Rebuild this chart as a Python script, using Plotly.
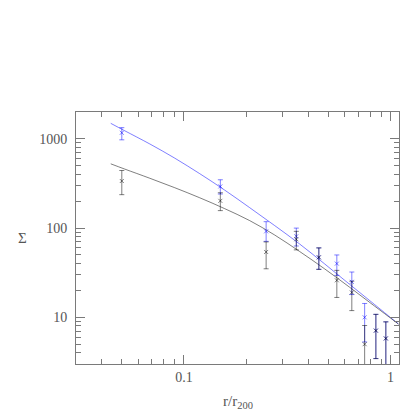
import plotly.graph_objects as go

# ---- data ----
r_bins = [0.05, 0.15, 0.25, 0.35, 0.45, 0.55, 0.65, 0.75, 0.85, 0.95]

sigma_blue = [1170, 293, 92, 81, 47, 40, 25, 10.0, 7.1, 5.8]
err_blue_up = [165, 55, 26, 19, 13, 10, 7.2, 4.3, 3.7, 3.1]
err_blue_dn = [195, 52, 21, 18, 12.5, 10.5, 7.0, 4.7, 3.65, 5.0]

sigma_black = [337, 202, 54, 75, 47, 26, 19, 5.0, 7.1, 5.8]
err_black_up = [105, 47, 16, 17, 13, 7.6, 6.4, 3.1, 3.7, 3.1]
err_black_dn = [100, 45, 19, 18, 12.5, 9.3, 7.1, 4.0, 3.65, 5.0]

model_r = [0.0442, 0.0516, 0.0683, 0.0902, 0.1191, 0.1573, 0.2079,
           0.2747, 0.3628, 0.4794, 0.6333, 0.8366, 1.093]
model_blue = [1493, 1234, 877, 608, 408, 267, 169.7, 106.9, 66.5, 39.8, 23.5, 13.96, 8.42]
model_black = [525, 459, 362, 283.6, 219, 165.4, 121.5, 83.8, 54.8, 35.0, 21.8, 13.4, 8.42]

x_tickvals = [0.1, 1]
x_ticktext = ["0.1", "1"]
x_minor = [0.03, 0.04, 0.05, 0.06, 0.07, 0.08, 0.09, 0.2, 0.3, 0.4, 0.5, 0.6, 0.7, 0.8, 0.9]
y_tickvals = [10, 100, 1000]
y_ticktext = ["10", "100", "1000"]
y_minor = [3, 4, 5, 6, 7, 8, 9, 20, 30, 40, 50, 60, 70, 80, 90,
           200, 300, 400, 500, 600, 700, 800, 900]

BLUE = "rgba(0,0,255,0.5)"
BLACK = "rgba(0,0,0,0.5)"
AXC = "#7a7a7a"
TXT = "#555555"
FONT = "Liberation Serif"
XR = [-1.5229, 0.0414]
YR = [0.4771, 3.3010]

fig = go.Figure()

fig.add_trace(go.Scatter(x=model_r, y=model_blue, mode="lines",
                         line=dict(color=BLUE, width=1, shape="spline"),
                         hoverinfo="skip", showlegend=False))
fig.add_trace(go.Scatter(x=model_r, y=model_black, mode="lines",
                         line=dict(color=BLACK, width=1, shape="spline"),
                         hoverinfo="skip", showlegend=False))

fig.add_trace(go.Scatter(
    x=r_bins, y=sigma_blue, mode="markers",
    marker=dict(symbol="x-thin", size=4, color=BLUE, line=dict(width=1, color=BLUE)),
    error_y=dict(type="data", symmetric=False, array=err_blue_up, arrayminus=err_blue_dn,
                 color=BLUE, thickness=1, width=2.5),
    showlegend=False))
fig.add_trace(go.Scatter(
    x=r_bins, y=sigma_black, mode="markers",
    marker=dict(symbol="x-thin", size=4, color=BLACK, line=dict(width=1, color=BLACK)),
    error_y=dict(type="data", symmetric=False, array=err_black_up, arrayminus=err_black_dn,
                 color=BLACK, thickness=1, width=2.5),
    showlegend=False))

# invisible trace to anchor the mirrored (top/right) axes
fig.add_trace(go.Scatter(x=[r_bins[0]], y=[sigma_blue[0]], xaxis="x2", yaxis="y2",
                         mode="markers", marker=dict(opacity=0), hoverinfo="skip",
                         showlegend=False))

tick_common = dict(
    showline=True, linecolor=AXC, linewidth=1, automargin=False,
    ticks="inside", ticklen=9, tickcolor=AXC, tickwidth=1,
    showgrid=False, zeroline=False,
    tickfont=dict(family=FONT, size=14, color=TXT),
)
xminor = dict(tickmode="array", tickvals=x_minor, ticks="inside",
              ticklen=5, tickcolor=AXC, tickwidth=1, showgrid=False)
yminor = dict(tickmode="array", tickvals=y_minor, ticks="inside",
              ticklen=5, tickcolor=AXC, tickwidth=1, showgrid=False)

fig.update_layout(
    xaxis=dict(type="log", range=XR, tickmode="array", tickvals=x_tickvals,
               ticktext=x_ticktext, minor=xminor, **tick_common),
    yaxis=dict(type="log", range=YR, tickmode="array", tickvals=y_tickvals,
               ticktext=y_ticktext, minor=yminor, ticklabelstandoff=5, **tick_common),
    xaxis2=dict(type="log", range=XR, tickmode="array", tickvals=x_tickvals,
                minor=xminor, overlaying="x", side="top", anchor="y2",
                showticklabels=False, **tick_common),
    yaxis2=dict(type="log", range=YR, tickmode="array", tickvals=y_tickvals,
                minor=yminor, overlaying="y", side="right", anchor="x2",
                showticklabels=False, **tick_common),
)

fig.add_annotation(text="Σ", x=-0.167, y=0.5, xref="paper", yref="paper",
                   xanchor="center", yanchor="middle",
                   showarrow=False, font=dict(family=FONT, size=15, color=TXT))
fig.add_annotation(text="r/r<sub>200</sub>", x=0.5, y=-0.15, xref="paper", yref="paper",
                   xanchor="center", yanchor="middle",
                   showarrow=False, font=dict(family=FONT, size=15, color=TXT))

fig.update_layout(width=415, height=415,
                  margin=dict(l=76, r=16, t=112, b=51, autoexpand=False),
                  paper_bgcolor="white", plot_bgcolor="white")

fig.write_html("out.html", config={"displayModeBar": False},
               post_script="document.body.style.margin='0';document.body.style.overflow='hidden';")
